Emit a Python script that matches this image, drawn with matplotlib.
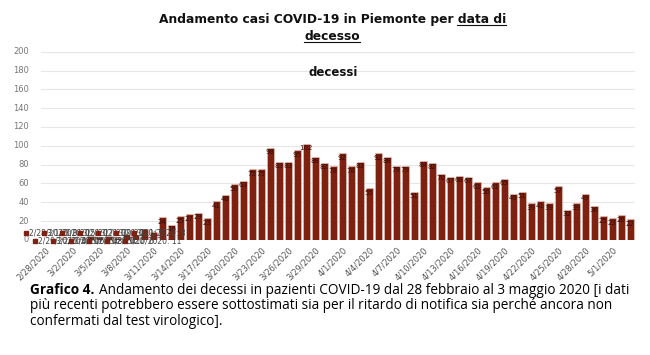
import matplotlib.pyplot as plt
import numpy as np
import pandas as pd

# decessi per data di decesso, 28/2 - 3/5/2020
dates = pd.date_range("2020-02-28", "2020-05-03", freq="D")
deaths = [0, 0, 1, 0, 1, 4, 3, 4, 2, 6, 5, 11, 8,
          24, 16, 25, 27, 29, 23, 41, 48, 59, 63, 75, 75,
          98, 83, 83, 95, 102, 88, 82, 78, 92, 78, 83, 55,
          92, 88, 79, 79, 51, 84, 82, 70, 67, 68, 67, 61,
          56, 61, 65, 49, 51, 39, 41, 39, 57, 32, 39, 49,
          36, 25, 23, 26, 22]
labels = [f"{d.month}/{d.day}/{d.year}" for d in dates]
y_ticks = list(range(0, 201, 20))

bar_col = "#7e2110"

fig = plt.figure(figsize=(6.5, 3.55), dpi=100)
ax = fig.add_axes([0.0628, 0.3245, 0.9138, 0.5296])

x = np.arange(len(deaths))
ax.bar(x, deaths, width=0.82, color=bar_col, edgecolor="#e8c8bd", linewidth=0.4, zorder=2)
ax.set_xlim(-0.5, len(deaths) - 0.5)
ax.set_ylim(0, 200)

# gridlines
for v in y_ticks:
    ax.axhline(v, color="#e6e6e6", lw=0.8, zorder=0)
    ax.text(-0.02, v, str(v), transform=ax.get_yaxis_transform(),
            ha="right", va="center", fontsize=6, color="#777777")
for s in ax.spines.values():
    s.set_visible(False)
ax.set_yticks([])
ax.set_xticks(x[::3])
ax.set_xticklabels(labels[::3], rotation=45, ha="right", rotation_mode="anchor",
                   fontsize=6, color="#555555")
ax.tick_params(axis="x", length=0, pad=4)

# etichette valori
for i, v in enumerate(deaths):
    if v >= 12:
        ax.text(i, v - 1.5, str(v), ha="center", va="top", fontsize=5,
                color="#3a0d05", zorder=3)
    else:
        row = 7 if i % 2 == 0 else -1.5
        ax.plot(i - 2.2, row, marker="s", ms=2.5, color=bar_col, clip_on=False, zorder=4)
        ax.text(i - 1.8, row, f"{labels[i]}: {v}", ha="left", va="center",
                fontsize=5.5, color="#444444", clip_on=False, zorder=4)

# titolo
tsize = 8.8
t1 = fig.text(0.511, 0.945, "Andamento casi COVID-19 in Piemonte per data di",
              ha="center", va="center", fontsize=tsize, fontweight="bold", color="#111111")
t2 = fig.text(0.511, 0.898, "decesso", ha="center", va="center",
              fontsize=tsize, fontweight="bold", color="#111111")
fig.text(0.512, 0.797, "decessi", ha="center", va="center",
         fontsize=8.5, fontweight="bold", color="#111111")

r = fig.canvas.get_renderer()
tmp = fig.text(0, 0, "data di", fontsize=tsize, fontweight="bold")
w = tmp.get_window_extent(r).width
tmp.remove()
b1 = t1.get_window_extent(r)
b2 = t2.get_window_extent(r)
W, H = fig.bbox.width, fig.bbox.height
fig.add_artist(plt.Line2D([(b1.x1 - w) / W, b1.x1 / W], [(b1.y0 + 1) / H] * 2,
                          color="#111111", lw=0.8))
fig.add_artist(plt.Line2D([b2.x0 / W, b2.x1 / W], [(b2.y0 + 1) / H] * 2,
                          color="#111111", lw=0.8))

# didascalia
cap_font = "Open Sans"
csize = 9.8
g = fig.text(0.046, 0.183, "Grafico 4.", fontsize=csize, fontweight="bold",
             family=cap_font, va="center")
gx = g.get_window_extent(r).x1 / W
fig.text(gx + 0.008, 0.183,
         "Andamento dei decessi in pazienti COVID-19 dal 28 febbraio al 3 maggio 2020 [i dati",
         fontsize=csize, family=cap_font, va="center")
fig.text(0.046, 0.139,
         "più recenti potrebbero essere sottostimati sia per il ritardo di notifica sia perché ancora non",
         fontsize=csize, family=cap_font, va="center")
fig.text(0.046, 0.095, "confermati dal test virologico].", fontsize=csize,
         family=cap_font, va="center")

fig.savefig("out.png", dpi=100)
